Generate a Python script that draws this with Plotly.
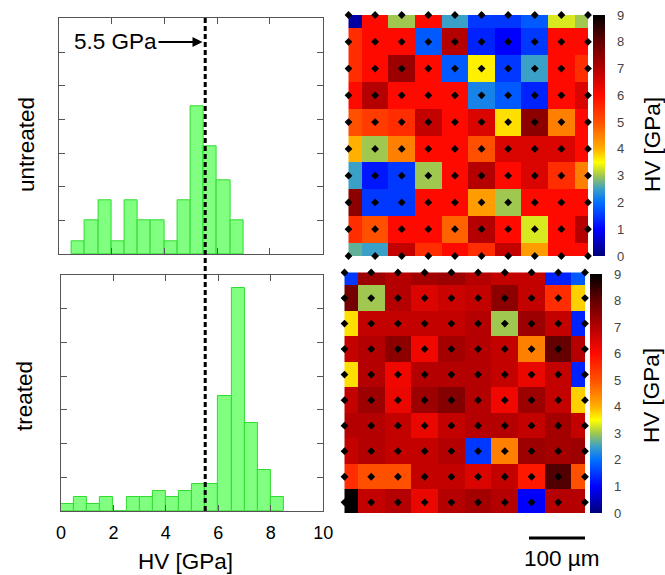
import numpy as np
import plotly.graph_objects as go

W, H = 665, 575

# ---------------- data ----------------
bin_width = 0.5
untreated_bin_starts = [0.5 + 0.5 * i for i in range(13)]
untreated_pct = [2, 5, 8, 2, 8, 5, 5, 2, 8, 22, 16, 11, 5]
treated_bin_starts = [0.5 * i for i in range(17)]
treated_pct = [1, 2, 1, 2, 0, 2, 2, 3, 2, 3, 4, 4, 17, 33, 13, 6, 2]
threshold = 5.5

hv_untreated = [
    [0.3, 6.0, 3.0, 6.0, 2.5, 1.5, 1.5, 1.8, 3.3, 3.0],
    [5.5, 6.0, 6.0, 1.8, 7.0, 1.3, 1.0, 1.5, 6.0, 6.0],
    [5.5, 6.0, 7.3, 6.0, 1.8, 3.6, 1.5, 2.5, 6.0, 5.5],
    [6.0, 7.0, 6.0, 6.0, 6.0, 2.2, 1.8, 1.3, 6.0, 6.5],
    [5.0, 5.3, 5.5, 6.8, 6.0, 6.5, 3.7, 7.5, 4.5, 6.0],
    [4.0, 3.0, 4.5, 6.0, 6.0, 5.0, 6.5, 6.5, 6.5, 6.0],
    [2.5, 1.2, 1.5, 3.0, 6.0, 7.0, 6.0, 6.5, 5.5, 4.5],
    [7.5, 1.5, 1.5, 6.0, 6.0, 4.2, 3.0, 6.0, 6.0, 6.0],
    [5.5, 5.0, 6.0, 6.0, 4.8, 7.0, 6.0, 3.3, 6.0, 7.0],
    [2.7, 2.5, 6.8, 5.5, 6.0, 5.5, 6.8, 4.2, 6.0, 6.0],
]
hv_treated = [
    [1.5, 7.3, 7.0, 7.2, 7.3, 7.0, 6.8, 6.8, 1.3, 1.8],
    [7.8, 3.0, 7.0, 6.5, 6.7, 6.8, 7.5, 6.8, 5.5, 3.8],
    [3.7, 6.8, 6.8, 6.8, 6.8, 7.0, 3.0, 7.3, 6.8, 1.3],
    [6.8, 7.0, 7.5, 6.2, 7.2, 7.0, 6.8, 4.5, 8.0, 7.0],
    [3.7, 7.0, 6.2, 7.0, 7.0, 7.0, 6.8, 6.3, 6.8, 1.3],
    [6.8, 7.3, 6.3, 7.3, 7.6, 7.0, 6.2, 7.3, 6.8, 3.8],
    [7.0, 7.0, 6.8, 6.3, 6.8, 7.0, 7.0, 6.8, 7.2, 6.8],
    [6.8, 7.0, 6.8, 6.8, 7.0, 1.5, 4.5, 7.3, 7.2, 7.3],
    [5.5, 5.0, 5.0, 6.8, 6.8, 6.5, 6.8, 5.8, 8.2, 5.0],
    [9.0, 6.8, 7.0, 6.3, 7.0, 7.2, 7.0, 1.0, 7.0, 7.0],
]
grid_cols = list(range(10))
grid_rows = list(range(10))
extra_point_treated = (1, 9.5)
cbar_ticks = list(range(10))
hist_xticks = [0, 2, 4, 6, 8, 10]

colorscale = [
    [0 / 9, "#00007a"],
    [1 / 9, "#0000ff"],
    [2 / 9, "#0070ff"],
    [2.5 / 9, "#3aa0c8"],
    [3 / 9, "#a0c850"],
    [3.5 / 9, "#ffff00"],
    [4 / 9, "#ffb000"],
    [5 / 9, "#ff5000"],
    [6 / 9, "#ff0a00"],
    [7 / 9, "#b40000"],
    [8 / 9, "#640000"],
    [9 / 9, "#000000"],
]

FONT = "Arial, Liberation Sans, sans-serif"
LABEL_SIZE = 22.5


def px(x):
    return x / W


def py(y):
    return 1 - y / H


fig = go.Figure()

bar_fill = "#80ff80"
bar_line = "#2fdc2f"

fig.add_trace(go.Bar(
    x=[s + bin_width / 2 for s in untreated_bin_starts], y=untreated_pct, width=bin_width,
    marker=dict(color=bar_fill, line=dict(color=bar_line, width=1)),
    xaxis="x", yaxis="y", showlegend=False))
fig.add_trace(go.Bar(
    x=[s + bin_width / 2 for s in treated_bin_starts], y=treated_pct, width=bin_width,
    marker=dict(color=bar_fill, line=dict(color=bar_line, width=1)),
    xaxis="x2", yaxis="y2", showlegend=False))

fig.add_trace(go.Heatmap(z=hv_untreated, x=grid_cols, y=grid_rows, coloraxis="coloraxis",
                         xaxis="x3", yaxis="y3"))
fig.add_trace(go.Heatmap(z=hv_treated, x=grid_cols, y=grid_rows, coloraxis="coloraxis2",
                         xaxis="x4", yaxis="y4"))

gx, gy = np.meshgrid(grid_cols, grid_rows)
fig.add_trace(go.Scatter(x=gx.ravel(), y=gy.ravel(), mode="markers",
                         marker=dict(symbol="diamond", size=6, color="black"),
                         xaxis="x3", yaxis="y3", showlegend=False, cliponaxis=False))
fig.add_trace(go.Scatter(x=list(gx.ravel()) + [extra_point_treated[0]],
                         y=list(gy.ravel()) + [extra_point_treated[1]], mode="markers",
                         marker=dict(symbol="diamond", size=6, color="black"),
                         xaxis="x4", yaxis="y4", showlegend=False, cliponaxis=False))

axis_line = "#555555"
hist_x_common = dict(range=[0, 10], showgrid=False, zeroline=False, showline=True, mirror="ticks",
                     linecolor=axis_line, linewidth=1, ticks="inside", ticklen=6, tickcolor=axis_line,
                     tickvals=hist_xticks, automargin=False)
hist_y_common = dict(range=[0, 35], showgrid=False, zeroline=False, showline=True, mirror="ticks",
                     linecolor=axis_line, linewidth=1, ticks="inside", ticklen=6, tickcolor=axis_line,
                     tickvals=[5, 10, 15, 20, 25, 30], showticklabels=False, automargin=False)

map_common = dict(showgrid=False, zeroline=False, showline=False, showticklabels=False, ticks="",
                  automargin=False)

cbar_common = dict(thickness=12, thicknessmode="pixels", lenmode="fraction", xanchor="left",
                   yanchor="top", xpad=0, ypad=0, outlinewidth=0, tickvals=cbar_ticks,
                   ticks="outside", ticklen=10, tickcolor="rgba(0,0,0,0)",
                   tickfont=dict(size=13, color="#444444", family=FONT))

fig.update_layout(
    width=W, height=H,
    margin=dict(l=0, r=0, t=0, b=0, autoexpand=False),
    paper_bgcolor="white", plot_bgcolor="white",
    font=dict(family=FONT, color="black"),
    bargap=0,
    xaxis=dict(domain=[px(58.6), px(322.7)], anchor="y", showticklabels=False, **hist_x_common),
    yaxis=dict(domain=[py(254.3), py(18.3)], anchor="x", **hist_y_common),
    xaxis2=dict(domain=[px(60.9), px(323.3)], anchor="y2", showticklabels=True,
                ticklabelstandoff=6,
                tickfont=dict(size=18, color="black"), **hist_x_common),
    yaxis2=dict(domain=[py(510.7), py(275)], anchor="x2", **hist_y_common),
    xaxis3=dict(domain=[px(348.5), px(588)], anchor="y3", range=[0, 9], **map_common),
    yaxis3=dict(domain=[py(256), py(15)], anchor="x3", range=[9, 0], **map_common),
    xaxis4=dict(domain=[px(344.5), px(585)], anchor="y4", range=[0, 9], **map_common),
    yaxis4=dict(domain=[py(513), py(272.5)], anchor="x4", range=[9.42, 0], **map_common),
    coloraxis=dict(colorscale=colorscale, cmin=0, cmax=9,
                   colorbar=dict(x=px(593), y=py(15), len=241 / H, **cbar_common)),
    coloraxis2=dict(colorscale=colorscale, cmin=0, cmax=9,
                    colorbar=dict(x=px(590), y=py(274), len=239 / H, **cbar_common)),
)

# dashed threshold line across both histograms
fig.add_shape(type="line", xref="x2", yref="paper", x0=threshold, x1=threshold,
              y0=py(511), y1=py(18), line=dict(color="black", width=3, dash="5px,3px"))

# threshold annotation
fig.add_annotation(x=threshold - 0.05, y=31.5, xref="x", yref="y", text="5.5 GPa",
                   showarrow=True, ax=-87, ay=0, axref="pixel", ayref="pixel",
                   arrowhead=2, arrowsize=1, arrowwidth=2, arrowcolor="black",
                   font=dict(size=LABEL_SIZE, color="black"))


def label(x, y, text, angle=0, size=LABEL_SIZE):
    fig.add_annotation(x=px(x), y=py(y), xref="paper", yref="paper", text=text,
                       showarrow=False, textangle=angle, xanchor="center", yanchor="middle",
                       font=dict(size=size, color="black"))


label(26, 145, "untreated", -90)
label(24, 396, "treated", -90)
label(185, 561, "HV [GPa]")
label(652, 145, "HV [GPa]", -90)
label(651, 396, "HV [GPa]", -90)

# scale bar
fig.add_shape(type="line", xref="paper", yref="paper", x0=px(529), x1=px(585),
              y0=py(538), y1=py(538), line=dict(color="black", width=3))
label(562, 558, "100 µm")

fig.write_html("out.html", config={"displayModeBar": False},
               post_script="document.body.style.margin='0';document.body.style.overflow='hidden';")
